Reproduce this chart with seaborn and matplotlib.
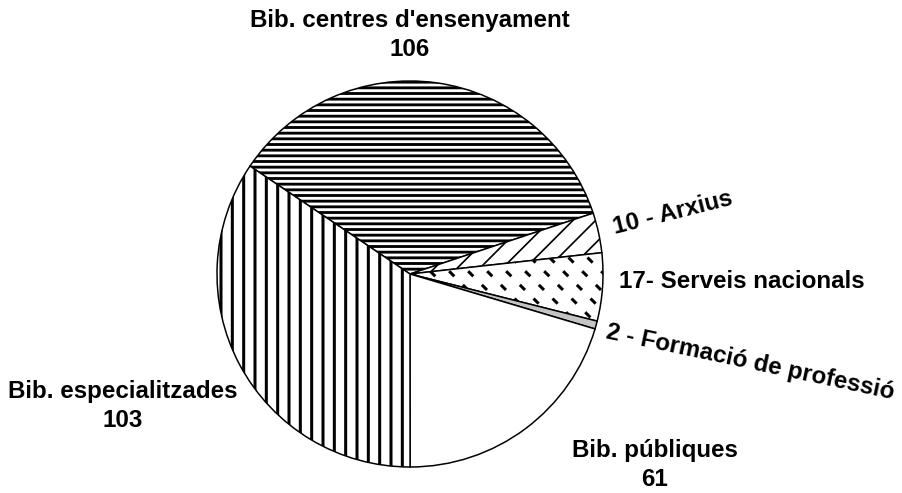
import matplotlib
matplotlib.use("Agg")
import matplotlib.pyplot as plt
import seaborn as sns
import numpy as np

# dades
categories = ["Bib. centres d'ensenyament", "Arxius", "Serveis nacionals",
              "Formació de professió", "Bib. públiques", "Bib. especialitzades"]
valors = [106, 10, 17, 2, 61, 103]
etiquetes = ["Bib. centres d'ensenyament\n106", "10 - Arxius", "17- Serveis nacionals",
             "2 - Formació de professió", "Bib. públiques\n61", "Bib. especialitzades\n103"]

# estil de cada sector
colors = ["white", "white", "white", "#c4c4c4", "white", "white"]
tramats = ["----", "//", None, None, None, "||"]
gruix_tramat = [1.5, 0.9, 1.0, 1.0, 1.0, 1.6]

# posicio de les etiquetes (pixels, origen a baix a l'esquerra) i rotacio
pos_etiquetes = [(410, 458, 0), (673, 280, 14), (742, 212, 0),
                 (750, 131, -12), (655, 28, 0), (123, 87, 0)]

DPI = 136
sns.set_theme(style="white")
plt.rcParams["font.family"] = ["Liberation Sans", "DejaVu Sans"]
plt.rcParams["hatch.linewidth"] = 1.5

fig = plt.figure(figsize=(902 / DPI, 493 / DPI), dpi=DPI)
ax = fig.add_axes([0, 0, 1, 1])

wedges, _ = ax.pie(valors, startangle=146, counterclock=False,
                   center=(410, 219), radius=193, colors=colors,
                   wedgeprops=dict(edgecolor="black", linewidth=0.8))
for w, h, lw in zip(wedges, tramats, gruix_tramat):
    if h:
        w.set_hatch(h)
        try:
            w.set_hatch_linewidth(lw)
        except AttributeError:
            pass

# tramat de guionets per a "Serveis nacionals"
serveis = wedges[2]
for c in np.arange(500, 1000, 19):
    ln, = ax.plot([c, c - 493], [0, 493], color="black", lw=1.6,
                  linestyle=(1, (2.4, 4.0)), solid_capstyle="butt")
    ln.set_clip_path(serveis)

ax.set_xlim(0, 902)
ax.set_ylim(0, 493)
ax.axis("off")

for txt, (x, y, rot) in zip(etiquetes, pos_etiquetes):
    ax.text(x, y, txt, ha="center", va="center", rotation=rot,
            rotation_mode="anchor", fontsize=12.8, fontweight="bold",
            linespacing=1.3, color="black")

fig.savefig("out.png", dpi=DPI)
